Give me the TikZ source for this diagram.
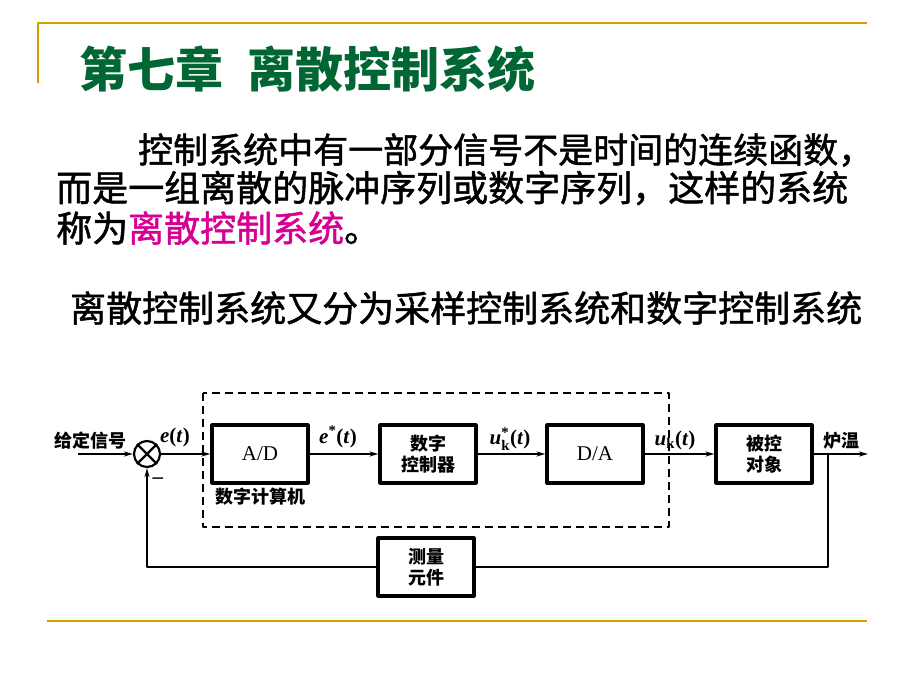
\documentclass[tikz,border=0pt]{standalone}
\usepackage{amsmath}
\usepackage{fontspec}
\setmainfont{Liberation Serif}
\newfontfamily\cjk{Noto Sans CJK SC}
\newfontfamily\cjkfat{Noto Sans CJK SC}[FakeBold=1.4]
\usetikzlibrary{arrows.meta}

\definecolor{titlegreen}{RGB}{0,102,51}
\definecolor{keypink}{RGB}{214,0,147}
\definecolor{rulegold}{RGB}{212,160,0}

% signal names: bold italic letters, bold upright k and brackets
\newcommand{\bi}[1]{\textbf{\textit{#1}}}
\newcommand{\bs}[1]{\text{\bfseries #1}}

\tikzset{
	blk/.style={draw, line width=3.2pt, minimum width=96pt, minimum height=58pt,
		inner sep=0pt, align=center, font=\cjk\bfseries\fontsize{18}{21}\selectfont},
	sig/.style={inner sep=0pt, font=\fontsize{21}{24}\selectfont},
	lbl/.style={inner sep=0pt, font=\cjk\bfseries\fontsize{18}{21}\selectfont},
	txt/.style={inner sep=0pt, anchor=west, font=\cjkfat\fontsize{36}{40}\selectfont},
	wire/.style={line width=2.2pt},
}

\begin{document}
\begin{tikzpicture}[x=1pt, y=-1pt, line join=round, >={Stealth[length=9pt,width=5pt]}]
	
	\useasboundingbox (0,0) rectangle (920,690);
	
	% rules of the slide
	\draw[rulegold, line width=1.8pt] (38,83) -- (38,23) -- (867,23);
	\draw[rulegold, line width=1.8pt] (47,621) -- (867,621);
	
	% title and text
	\node[txt, text=titlegreen, font=\cjk\bfseries\fontsize{48}{52}\selectfont] (title) at (79,69)
	{第七章\hspace{0.5em}离散控制系统};
	\node[txt, font=\cjkfat\fontsize{35}{40}\selectfont] (line1) at (138,150) {控制系统中有一部分信号不是时间的连续函数，};
	\node[txt] (line2) at (56,188) {而是一组离散的脉冲序列或数字序列，这样的系统};
	\node[txt] (line3) at (56,228) {称为\textcolor{keypink}{离散控制系统}。};
	\node[txt] (line4) at (70,308) {离散控制系统又分为采样控制系统和数字控制系统};
	
	% block diagram
	\coordinate (in) at (78,454);
	\coordinate (branch) at (828,454);
	\coordinate (out) at (868,454);
	
	\node[circle, draw, line width=2.2pt, minimum size=26pt, inner sep=0pt] (sum) at (147,454) {};
	\draw[wire] (sum.45) -- (sum.225) (sum.135) -- (sum.315);
	
	\node[blk, font=\fontsize{21}{24}\selectfont] (ad) at (260,454) {A/D};
	\node[blk] (ctrl) at (428,454) {数字\\控制器};
	\node[blk, font=\fontsize{21}{24}\selectfont] (da) at (595,454) {D/A};
	\node[blk] (plant) at (764,454) {被控\\对象};
	\node[blk] (meas) at (426,567) {测量\\元件};
	
	\draw[line width=1.8pt, dash pattern=on 8pt off 5pt] (203,393) rectangle (669,527);
	
	\draw[wire, ->] (in) -- (sum);
	\draw[wire, ->] (sum) -- (ad);
	\draw[wire, ->] (ad) -- (ctrl);
	\draw[wire, ->] (ctrl) -- (da);
	\draw[wire, ->] (da) -- (plant);
	\draw[wire, ->] (plant) -- (out);
	\draw[wire] (branch) |- (meas);
	\draw[wire, ->] (meas) -| (sum);
	
	\node[lbl] (ref) at (90,441) {给定信号};
	\node[lbl] (comp) at (260,497) {数字计算机};
	\node[lbl] (temp) at (841,441) {炉温};
	\node[sig] (et) at (175,437) {\bi{e}\textbf{(}\bi{t}\textbf{)}};
	\node[sig] (es) at (338,437) {$\bi{e}^{\bs{*}}$\textbf{(}\bi{t}\textbf{)}};
	\node[sig] (uks) at (510,439) {$\bi{u}^{\bs{*}}_{\bs{k}}$\textbf{(}\bi{t}\textbf{)}};
	\node[sig] (uk) at (675,440) {$\bi{u}_{\bs{k}}$\textbf{(}\bi{t}\textbf{)}};
	\node[sig] (minus) at (158,481) {\textbf{–}};
	
\end{tikzpicture}
\end{document}
